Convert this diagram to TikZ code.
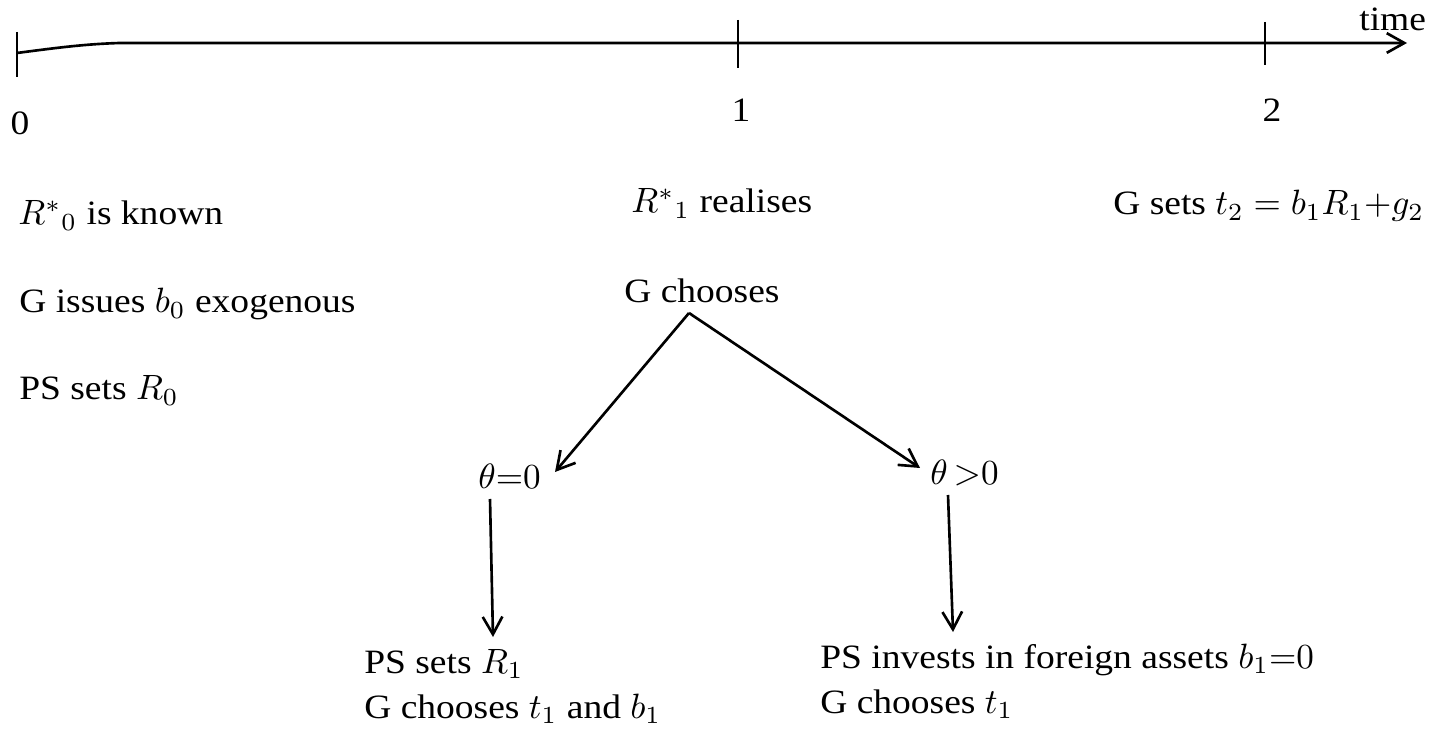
\documentclass[tikz,border=0pt]{standalone}
\usepackage{amsmath}
\usepackage{fontspec}
\setmainfont{Liberation Serif}[FakeStretch=1.1]
\usetikzlibrary{arrows.meta,calc}

\begin{document}
\begin{tikzpicture}[x=0.01cm, y=-0.01cm, line width=0.75pt,
    font=\fontsize{9.7pt}{11pt}\selectfont,
    txt/.style={inner sep=0pt, anchor=base west},
    num/.style={inner sep=0pt, anchor=base},
    arr/.style={-{Straight Barb[length=5pt, width=5.6pt]}}]

    \useasboundingbox (0,0) rectangle (1446,731);

    % Time line with its ticks
    \coordinate (tstart) at (17,53);
    \coordinate (tend) at (1407,43);
    \draw[arr] (tstart) .. controls (55,48) and (85,44) .. (120,43) -- (tend);
    \foreach \x/\a/\b in {17/32/77, 738/20/68, 1265/22/65}
        \draw (\x,\a) -- (\x,\b);
    \node[txt] (time) at (1358,31) {time};

    % Period numbers
    \node[num] (p0) at (20,135) {0};
    \node[num] (p1) at (741,122) {1};
    \node[num] (p2) at (1272,122) {2};

    % Period 0
    \node[txt] (known0) at (17,225) {$R^{*}{}_{0}$ is known};
    \node[txt] (issue0) at (18,313) {G issues $b_0$ exogenous};
    \node[txt] (sets0) at (18,400) {PS sets $R_0$};

    % Period 1
    \node[txt] (real1) at (630,213) {$R^{*}{}_{1}$ realises};
    \node[txt] (gch) at (623,303) {G chooses};
    \node[txt] (th0) at (477,489) {$\theta{=}0$};
    \node[txt] (thp) at (929,485) {$\theta\,{>}0$};
    \node[txt] (sets1) at (363,673) {PS sets $R_1$};
    \node[txt] (gch1) at (363,718) {G chooses $t_1$ and $b_1$};
    \node[txt] (inv1) at (819,668) {PS invests in foreign assets $b_1{=}0$};
    \node[txt] (gcht1) at (819,713) {G chooses $t_1$};

    % Period 2
    \node[txt] (sets2) at (1112,215) {G sets $t_2 = b_1R_1{+}g_2$};

    % Branches of the choice
    \draw[arr] ($(gch.base west)+(66,10)$) -- ($(th0.base west)+(78,-17)$);
    \draw[arr] ($(gch.base west)+(66,10)$) -- ($(thp.base west)+(-9,-17)$);
    \draw[arr] ($(th0.base west)+(13,10)$) -- ($(sets1.base west)+(130,-36)$);
    \draw[arr] ($(thp.base west)+(19,10)$) -- ($(inv1.base west)+(134,-36)$);
\end{tikzpicture}
\end{document}
